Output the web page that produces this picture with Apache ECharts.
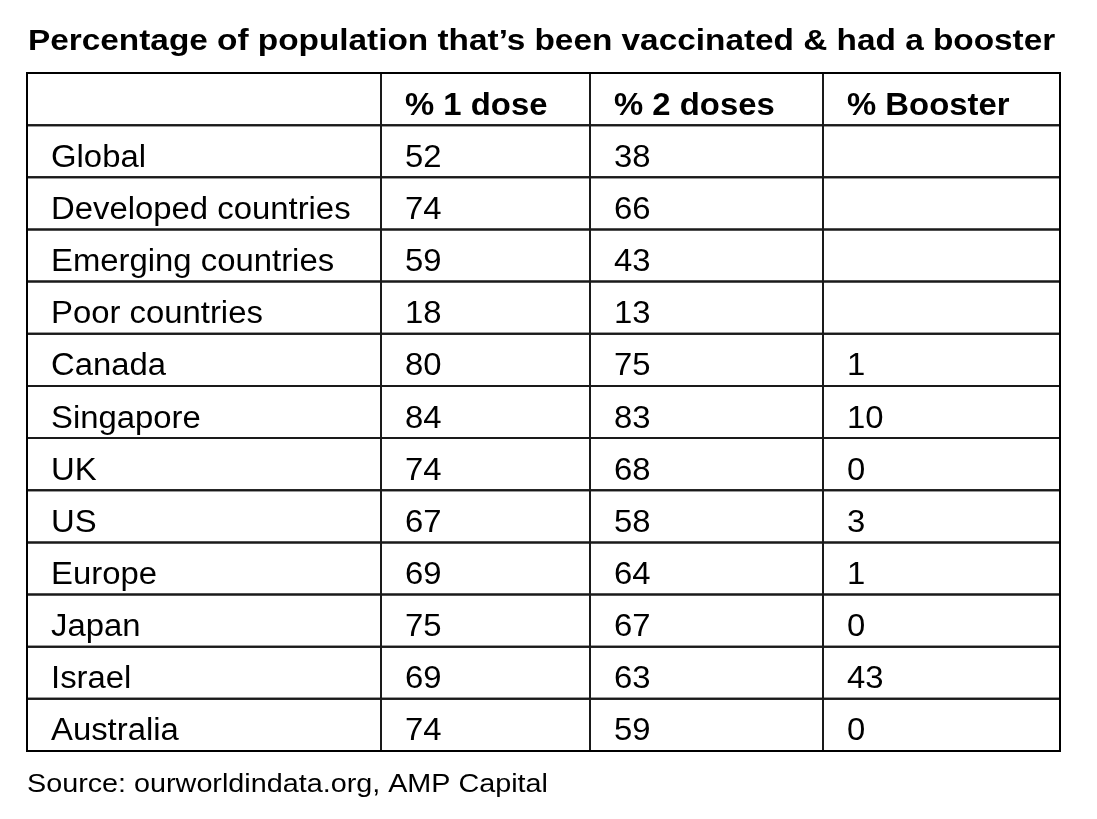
<!DOCTYPE html>
<html>
<head>
<meta charset="utf-8">
<script src="https://cdn.jsdelivr.net/npm/echarts@6/dist/echarts.min.js"></script>
<style>
  html, body { margin: 0; padding: 0; background: #fff; }
  #main { width: 1097px; height: 819px; }
</style>
</head>
<body>
<div id="main"></div>
<script>
var titleText = 'Percentage of population that\u2019s been vaccinated & had a booster';
var sourceText = 'Source: ourworldindata.org, AMP Capital';
var headers = ['', '% 1 dose', '% 2 doses', '% Booster'];
var rows = ['Global', 'Developed countries', 'Emerging countries', 'Poor countries', 'Canada',
    'Singapore', 'UK', 'US', 'Europe', 'Japan', 'Israel', 'Australia'];
var dose1 = [52, 74, 59, 18, 80, 84, 74, 67, 69, 75, 69, 74];
var dose2 = [38, 66, 43, 13, 75, 83, 68, 58, 64, 67, 63, 59];
var booster = [null, null, null, null, 1, 10, 0, 3, 1, 0, 43, 0];

// column edges in table units (table is 1033 wide)
var colEdges = [0, 354, 563, 796, 1033];
var FONT = '"Liberation Sans", Arial, sans-serif';
var SX = 1.15;      // title / source are a bit wider than the font
var SX_CELL = 1.06; // cell text

function echartsInit(el) {
    var chart = echarts.init(el);
    var yCats = ['header'].concat(rows);

    var cells = [];
    headers.forEach(function (h, c) {
        cells.push([colEdges[c], 0, c, h, 1]);
    });
    rows.forEach(function (name, r) {
        var vals = [name, dose1[r], dose2[r], booster[r]];
        for (var c = 0; c < 4; c++) {
            var v = vals[c];
            cells.push([colEdges[c], r + 1, c, v == null ? '' : String(v), 0]);
        }
    });

    var option = {
        animation: false,
        grid: { left: 27, top: 73, width: 1033, height: 678 },
        xAxis: { type: 'value', min: 0, max: 1033, show: false },
        yAxis: { type: 'category', data: yCats, inverse: true, show: false },
        graphic: [{
            type: 'text', x: 28, y: 42, scaleX: SX,
            style: { text: titleText, font: 'bold 29px ' + FONT, fill: '#000',
                textAlign: 'left', textVerticalAlign: 'middle' }
        }, {
            type: 'text', x: 27, y: 785, scaleX: SX,
            style: { text: sourceText, font: '25px ' + FONT, fill: '#000',
                textAlign: 'left', textVerticalAlign: 'middle' }
        }, {
            type: 'rect', silent: true,
            shape: { x: 27, y: 73, width: 1033, height: 678 },
            style: { fill: 'none', stroke: '#000', lineWidth: 2 }, z: 100
        }],
        series: [{
            type: 'custom',
            clip: false,
            data: cells,
            encode: { x: 0, y: 1 },
            renderItem: function (params, api) {
                var c = api.value(2);
                var p0 = api.coord([colEdges[c], api.value(1)]);
                var p1 = api.coord([colEdges[c + 1], api.value(1)]);
                var h = api.size([0, 1])[1];
                var bold = api.value(4) === 1;
                return {
                    type: 'group',
                    children: [{
                        type: 'rect',
                        shape: { x: p0[0], y: p0[1] - h / 2, width: p1[0] - p0[0], height: h },
                        style: { fill: 'none', stroke: '#1a1a1a', lineWidth: 2 }
                    }, {
                        type: 'text',
                        x: p0[0] + 24, y: p0[1] + 7, scaleX: SX_CELL,
                        style: {
                            text: api.value(3),
                            font: (bold ? 'bold ' : '') + '31px ' + FONT,
                            fill: '#000',
                            textAlign: 'left',
                            textVerticalAlign: 'middle'
                        }
                    }]
                };
            }
        }]
    };
    chart.setOption(option);
}

echartsInit(document.getElementById('main'));
</script>
</body>
</html>
